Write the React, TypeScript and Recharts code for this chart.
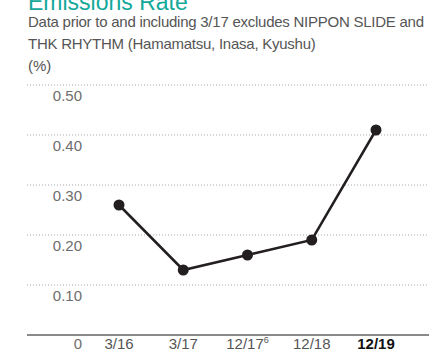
import React from 'react';
import { LineChart, Line, XAxis, YAxis, CartesianGrid } from 'recharts';

// Emissions rate (%) by fiscal period
const periods = ['3/16', '3/17', '12/17', '12/18', '12/19'];
const footnotes = ['', '', '6', '', ''];
const rates = [0.26, 0.13, 0.16, 0.19, 0.41];
const yTicks = [0, 0.1, 0.2, 0.3, 0.4, 0.5];

const title = 'Emissions Rate';
const noteLines = [
  'Data prior to and including 3/17 excludes NIPPON SLIDE and',
  'THK RHYTHM (Hamamatsu, Inasa, Kyushu)',
];
const unit = '(%)';

const data = periods.map((p, i) => ({ period: p, note: footnotes[i], rate: rates[i] }));

const FONT = '"Liberation Sans", Arial, sans-serif';

const YTick = ({ y, payload }: any) => (
  <text x={82} y={y + (payload.value === 0 ? 13.5 : 16)} textAnchor="end" fontFamily={FONT} fontSize={15} fill="#6d6d6d">
    {payload.value === 0 ? '0' : Number(payload.value).toFixed(2)}
  </text>
);

const XTick = ({ x, y, payload, index }: any) => {
  const last = index === periods.length - 1;
  const note = footnotes[index];
  return (
    <text
      x={x}
      y={y + 13.5}
      textAnchor="middle"
      fontFamily={FONT}
      fontSize={15}
      fontWeight={last ? 'bold' : 'normal'}
      fill={last ? '#111' : '#555'}
    >
      {payload.value}
      {note ? (
        <tspan fontSize={9} dy={-6}>
          {note}
        </tspan>
      ) : null}
    </text>
  );
};

export default function App() {
  return (
    <div style={{ position: 'absolute', left: 0, top: 0, width: 429, height: 350, background: '#fff', overflow: 'hidden' }}>
      <svg width={429} height={80} style={{ position: 'absolute', left: 0, top: 0 }}>
        <text x={28} y={9.5} fontFamily={FONT} fontSize={23} fill="#13a89a">
          {title}
        </text>
        {noteLines.map((t, i) => (
          <text key={i} x={28} y={26.5 + i * 22} fontFamily={FONT} fontSize={15} letterSpacing={-0.25} fill="#555">
            {t}
          </text>
        ))}
        <text x={28} y={70.5} fontFamily={FONT} fontSize={15} fill="#555">
          {unit}
        </text>
      </svg>
      <div style={{ position: 'absolute', left: 0, top: 0 }}>
        <LineChart width={429} height={350} data={data} margin={{ top: 85, right: 0, bottom: 0, left: 27 }}>
          <CartesianGrid vertical={false} stroke="#a8a8a8" strokeDasharray="1 2" />
          <XAxis
            dataKey="period"
            type="category"
            scale="point"
            padding={{ left: 92, right: 53 }}
            height={15}
            axisLine={{ stroke: '#8a8a8a', strokeWidth: 2 }}
            tickLine={false}
            tickSize={0}
            tickMargin={0}
            interval={0}
            tick={<XTick />}
          />
          <YAxis
            type="number"
            domain={[0, 0.5]}
            ticks={yTicks}
            mirror
            axisLine={false}
            tickLine={false}
            tick={<YTick />}
          />
          <Line
            type="linear"
            dataKey="rate"
            stroke="#231f20"
            strokeWidth={2.5}
            dot={{ r: 5.5, fill: '#231f20', stroke: '#231f20', strokeWidth: 0 }}
            isAnimationActive={false}
          />
        </LineChart>
      </div>
    </div>
  );
}
